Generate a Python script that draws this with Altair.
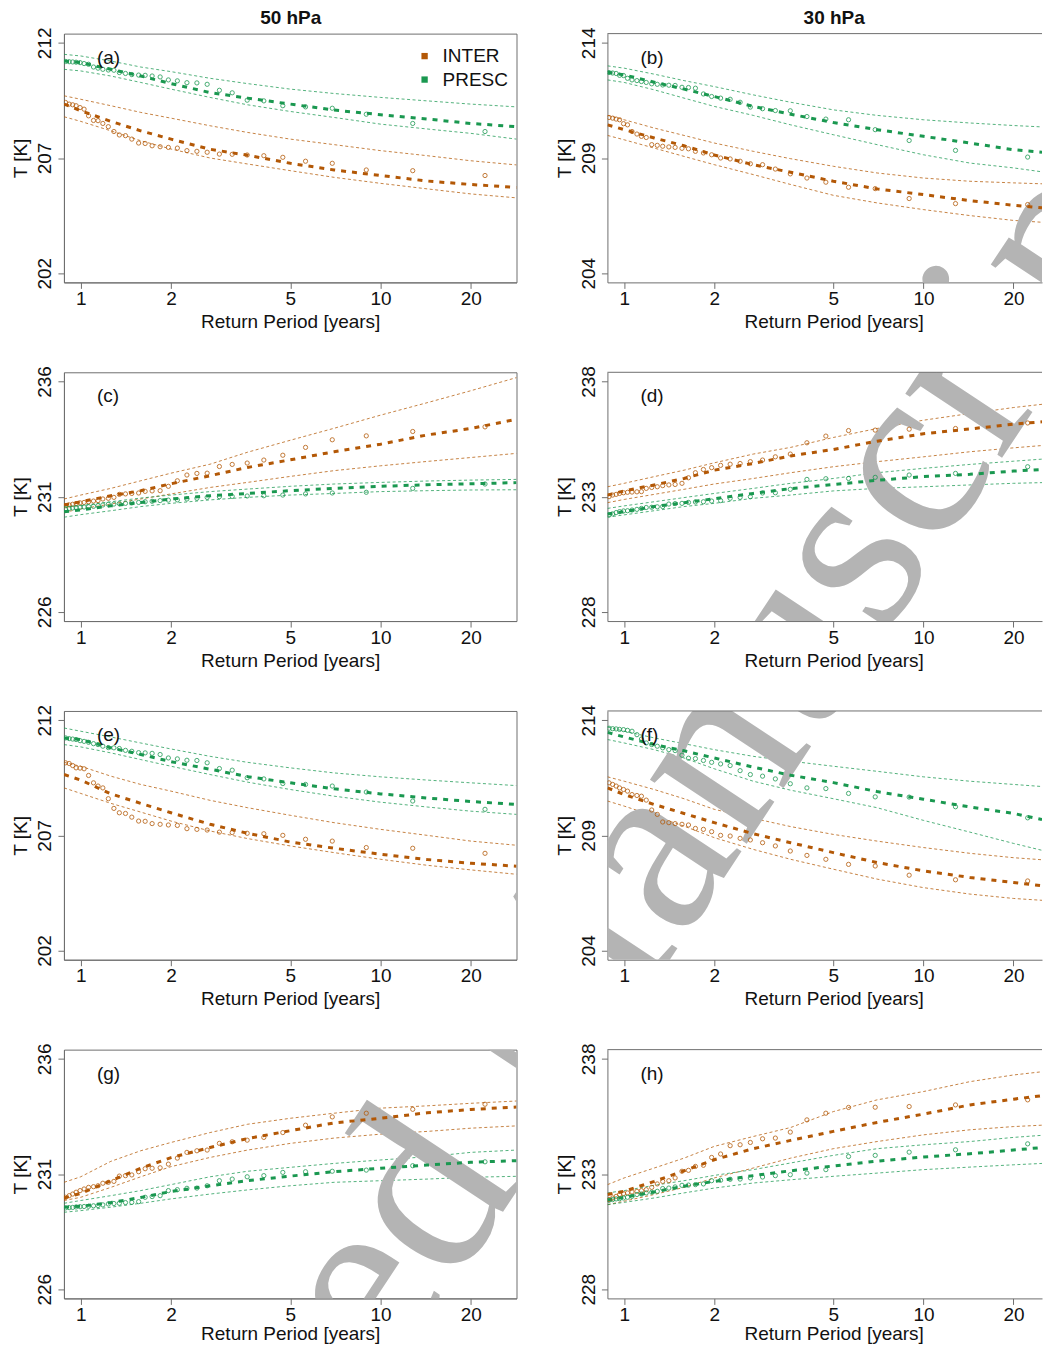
import altair as alt
import pandas as pd

BROWN = "#B35806"
GREEN = "#1A9850"
FRAME = "#6E6E6E"
FONT = "Liberation Sans"

# Return periods (years) of the empirical points, largest first
rp_pts = [22.3, 12.8, 8.96, 6.9, 5.62, 4.72, 4.08, 3.59, 3.2, 2.9, 2.64, 2.44, 2.26, 2.1,
          1.96, 1.84, 1.73, 1.64, 1.56, 1.48, 1.41, 1.345, 1.29, 1.236, 1.185, 1.142,
          1.103, 1.062, 1.026, 0.995, 0.965, 0.94, 0.915, 0.89]
# Return periods at which the fitted curves and bounds are read (left column, full width)
rp_fit = [0.88, 1.0, 1.26, 1.585, 2.0, 2.7, 3.6, 5.0, 7.0, 10.0, 14.3, 20.0, 28.4]
# right column is cut by the picture edge
rp_fit_r = [0.88, 1.0, 1.26, 1.585, 2.0, 2.7, 3.6, 5.0, 7.0, 10.0, 14.3, 20.0, 24.9]

# ---- (a) 50 hPa ----
a_inter_fit = [209.34, 209.05, 208.59, 208.18, 207.82, 207.38, 207.12, 206.77, 206.48, 206.24, 206.00, 205.85, 205.72]
a_inter_hi = [209.70, 209.55, 209.27, 208.98, 208.73, 208.40, 208.11, 207.82, 207.58, 207.32, 207.10, 206.88, 206.70]
a_inter_lo = [208.79, 208.59, 208.18, 207.75, 207.39, 207.00, 206.74, 206.45, 206.16, 205.90, 205.66, 205.44, 205.27]
a_inter_pts = [206.24, 206.45, 206.48, 206.77, 206.86, 207.03, 207.10, 207.13, 207.16, 207.17, 207.25, 207.29, 207.32, 207.43, 207.46, 207.49, 207.53, 207.63, 207.65, 207.82, 207.97, 208.00, 208.15, 208.36, 208.50, 208.62, 208.63, 208.83, 209.12, 209.19, 209.27, 209.31, 209.34, 209.41]
a_presc_fit = [211.21, 211.14, 210.85, 210.56, 210.23, 209.84, 209.60, 209.34, 209.08, 208.88, 208.69, 208.50, 208.36]
a_presc_hi = [211.50, 211.43, 211.21, 210.95, 210.75, 210.46, 210.23, 209.99, 209.80, 209.63, 209.48, 209.34, 209.22]
a_presc_lo = [210.85, 210.78, 210.56, 210.28, 209.99, 209.63, 209.31, 209.02, 208.76, 208.47, 208.26, 208.07, 207.82]
a_presc_pts = [208.15, 208.50, 208.90, 209.16, 209.22, 209.27, 209.48, 209.51, 209.83, 209.94, 210.20, 210.26, 210.27, 210.35, 210.39, 210.52, 210.56, 210.59, 210.60, 210.62, 210.67, 210.71, 210.81, 210.82, 210.85, 210.90, 210.95, 211.07, 211.10, 211.14, 211.16, 211.17, 211.18, 211.19]

# ---- (b) 30 hPa ----
b_inter_fit = [210.44, 210.23, 209.87, 209.53, 209.13, 208.71, 208.38, 207.99, 207.66, 207.41, 207.15, 206.95, 206.84]
b_inter_hi = [210.85, 210.66, 210.30, 209.98, 209.65, 209.29, 208.97, 208.64, 208.35, 208.13, 207.99, 207.92, 207.88]
b_inter_lo = [209.98, 209.79, 209.43, 209.07, 208.71, 208.28, 207.85, 207.38, 207.05, 206.76, 206.50, 206.29, 206.21]
b_inter_pts = [206.98, 207.02, 207.24, 207.67, 207.73, 207.95, 208.13, 208.31, 208.52, 208.71, 208.75, 208.86, 208.96, 209.00, 209.14, 209.22, 209.29, 209.40, 209.42, 209.46, 209.48, 209.51, 209.55, 209.58, 209.89, 209.94, 210.04, 210.15, 210.44, 210.49, 210.66, 210.69, 210.73, 210.76]
b_presc_fit = [212.72, 212.61, 212.29, 211.99, 211.67, 211.24, 210.90, 210.54, 210.23, 209.94, 209.65, 209.36, 209.25]
b_presc_hi = [213.00, 212.90, 212.64, 212.36, 212.10, 211.74, 211.42, 211.09, 210.85, 210.66, 210.52, 210.41, 210.35]
b_presc_lo = [212.39, 212.28, 211.96, 211.60, 211.24, 210.85, 210.44, 210.01, 209.58, 209.14, 208.78, 208.57, 208.40]
b_presc_pts = [209.04, 209.33, 209.76, 210.23, 210.66, 210.69, 210.80, 211.05, 211.06, 211.14, 211.21, 211.42, 211.55, 211.60, 211.67, 211.78, 212.03, 212.06, 212.07, 212.15, 212.16, 212.17, 212.20, 212.22, 212.28, 212.32, 212.36, 212.39, 212.46, 212.58, 212.59, 212.67, 212.69, 212.71]

# ---- (c) ----
c_inter_fit = [230.64, 230.78, 231.04, 231.26, 231.56, 231.91, 232.27, 232.60, 232.95, 233.28, 233.68, 233.96, 234.36]
c_inter_hi = [230.90, 231.07, 231.36, 231.69, 232.02, 232.41, 232.93, 233.45, 233.97, 234.54, 235.08, 235.60, 236.17]
c_inter_lo = [230.32, 230.47, 230.68, 230.90, 231.12, 231.40, 231.62, 231.88, 232.13, 232.34, 232.53, 232.70, 232.88]
c_inter_pts = [234.03, 233.83, 233.64, 233.47, 233.14, 232.80, 232.59, 232.46, 232.40, 232.31, 232.02, 232.01, 231.94, 231.69, 231.45, 231.26, 231.25, 231.23, 231.16, 231.14, 231.12, 231.10, 230.97, 230.93, 230.90, 230.83, 230.81, 230.78, 230.75, 230.73, 230.70, 230.67, 230.64, 230.61]
c_presc_fit = [230.35, 230.42, 230.60, 230.75, 230.90, 231.04, 231.14, 231.26, 231.36, 231.45, 231.52, 231.56, 231.61]
c_presc_hi = [230.54, 230.61, 230.78, 230.94, 231.07, 231.22, 231.33, 231.45, 231.55, 231.62, 231.68, 231.72, 231.75]
c_presc_lo = [230.11, 230.22, 230.39, 230.57, 230.71, 230.86, 230.97, 231.07, 231.14, 231.22, 231.26, 231.29, 231.30]
c_presc_pts = [231.55, 231.36, 231.19, 231.16, 231.12, 231.07, 231.04, 231.03, 231.01, 231.00, 230.97, 230.93, 230.90, 230.86, 230.85, 230.83, 230.80, 230.78, 230.75, 230.73, 230.71, 230.70, 230.68, 230.67, 230.64, 230.61, 230.58, 230.57, 230.55, 230.54, 230.52, 230.51, 230.49, 230.47]

# ---- (d) ----
d_inter_fit = [233.07, 233.25, 233.51, 233.79, 234.15, 234.44, 234.77, 235.05, 235.41, 235.73, 235.94, 236.15, 236.25]
d_inter_hi = [233.43, 233.58, 233.87, 234.15, 234.47, 234.85, 235.14, 235.57, 235.96, 236.32, 236.61, 236.87, 237.01]
d_inter_lo = [232.74, 232.88, 233.10, 233.32, 233.55, 233.79, 234.04, 234.30, 234.52, 234.73, 234.95, 235.12, 235.22]
d_inter_pts = [236.20, 235.96, 235.93, 235.89, 235.87, 235.63, 235.34, 234.85, 234.73, 234.59, 234.52, 234.44, 234.41, 234.36, 234.26, 234.18, 234.04, 233.82, 233.58, 233.53, 233.51, 233.48, 233.43, 233.40, 233.36, 233.22, 233.21, 233.20, 233.19, 233.17, 233.14, 233.10, 233.07, 233.00]
d_presc_fit = [232.25, 232.35, 232.57, 232.74, 232.91, 233.14, 233.35, 233.53, 233.71, 233.87, 233.97, 234.11, 234.18]
d_presc_hi = [232.49, 232.60, 232.78, 232.96, 233.14, 233.36, 233.58, 233.79, 234.04, 234.23, 234.40, 234.54, 234.63]
d_presc_lo = [232.11, 232.21, 232.39, 232.57, 232.71, 232.93, 233.07, 233.25, 233.36, 233.43, 233.51, 233.58, 233.61]
d_presc_pts = [234.30, 234.01, 233.94, 233.84, 233.79, 233.78, 233.75, 233.32, 233.17, 233.16, 233.00, 232.97, 232.93, 232.83, 232.81, 232.78, 232.77, 232.75, 232.71, 232.70, 232.68, 232.57, 232.56, 232.54, 232.53, 232.49, 232.45, 232.42, 232.39, 232.38, 232.35, 232.31, 232.25, 232.21]

# ---- (e) ----
e_inter_fit = [209.64, 209.40, 208.80, 208.39, 207.98, 207.48, 207.09, 206.71, 206.44, 206.18, 205.95, 205.79, 205.66]
e_inter_hi = [210.17, 210.00, 209.57, 209.21, 208.92, 208.52, 208.20, 207.87, 207.55, 207.26, 207.00, 206.75, 206.57]
e_inter_lo = [209.06, 208.82, 208.39, 208.01, 207.62, 207.19, 206.86, 206.54, 206.25, 205.96, 205.70, 205.50, 205.31]
e_inter_pts = [206.22, 206.44, 206.47, 206.75, 206.83, 207.00, 207.07, 207.09, 207.12, 207.14, 207.23, 207.26, 207.29, 207.43, 207.45, 207.48, 207.51, 207.61, 207.62, 207.79, 207.95, 207.98, 208.17, 208.59, 209.06, 209.14, 209.28, 209.60, 209.89, 209.92, 209.93, 210.03, 210.12, 210.15]
e_presc_fit = [211.23, 211.16, 210.80, 210.51, 210.20, 209.87, 209.55, 209.28, 209.02, 208.80, 208.62, 208.47, 208.34]
e_presc_hi = [211.66, 211.52, 211.27, 211.01, 210.75, 210.43, 210.17, 209.93, 209.71, 209.54, 209.40, 209.28, 209.16]
e_presc_lo = [210.94, 210.84, 210.58, 210.29, 210.00, 209.64, 209.31, 208.99, 208.70, 208.44, 208.23, 208.05, 207.91]
e_presc_pts = [208.13, 208.49, 208.88, 209.14, 209.21, 209.25, 209.45, 209.50, 209.83, 209.90, 210.15, 210.25, 210.26, 210.32, 210.36, 210.51, 210.56, 210.58, 210.59, 210.65, 210.69, 210.77, 210.80, 210.81, 210.87, 210.94, 210.98, 211.04, 211.08, 211.11, 211.16, 211.18, 211.20, 211.23]

# ---- (f) ----
f_inter_fit = [211.06, 210.77, 210.34, 209.95, 209.55, 209.07, 208.68, 208.25, 207.82, 207.46, 207.17, 206.95, 206.81]
f_inter_hi = [211.54, 211.35, 210.99, 210.59, 210.13, 209.74, 209.38, 209.04, 208.75, 208.47, 208.22, 208.03, 207.94]
f_inter_lo = [210.49, 210.27, 209.84, 209.40, 208.90, 208.39, 207.96, 207.53, 207.10, 206.73, 206.45, 206.26, 206.18]
f_inter_pts = [207.02, 207.07, 207.27, 207.67, 207.74, 207.96, 208.13, 208.32, 208.54, 208.68, 208.80, 208.87, 208.97, 209.00, 209.16, 209.26, 209.30, 209.45, 209.48, 209.51, 209.55, 209.58, 209.91, 210.10, 210.53, 210.70, 210.73, 210.77, 210.92, 210.99, 211.06, 211.14, 211.21, 211.28]
f_presc_fit = [213.47, 213.27, 212.94, 212.67, 212.36, 211.96, 211.61, 211.29, 210.90, 210.57, 210.23, 209.95, 209.69]
f_presc_hi = [213.70, 213.52, 213.23, 212.98, 212.72, 212.43, 212.22, 212.00, 211.78, 211.54, 211.35, 211.21, 211.12]
f_presc_lo = [213.16, 213.01, 212.72, 212.36, 211.89, 211.35, 210.96, 210.59, 210.20, 209.65, 209.14, 208.65, 208.35]
f_presc_pts = [209.76, 210.24, 210.66, 210.67, 210.82, 211.03, 211.06, 211.24, 211.45, 211.57, 211.64, 211.81, 212.03, 212.10, 212.17, 212.25, 212.33, 212.35, 212.48, 212.68, 212.72, 212.80, 212.87, 212.94, 213.01, 213.18, 213.37, 213.52, 213.56, 213.59, 213.60, 213.62, 213.63, 213.65]

# ---- (g) ----
g_inter_fit = [229.96, 230.16, 230.71, 231.25, 231.71, 232.15, 232.54, 232.88, 233.22, 233.42, 233.66, 233.80, 233.91]
g_inter_hi = [230.64, 230.88, 231.55, 232.01, 232.37, 232.80, 233.16, 233.42, 233.64, 233.86, 233.96, 234.07, 234.17]
g_inter_lo = [229.85, 229.99, 230.42, 230.88, 231.32, 231.72, 232.04, 232.33, 232.56, 232.73, 232.85, 232.99, 233.09]
g_inter_pts = [234.03, 233.81, 233.64, 233.48, 233.12, 232.80, 232.59, 232.47, 232.40, 232.33, 232.04, 232.01, 231.94, 231.69, 231.43, 231.27, 231.25, 231.23, 231.10, 230.96, 230.93, 230.91, 230.68, 230.64, 230.60, 230.49, 230.45, 230.42, 230.35, 230.28, 230.21, 230.13, 230.06, 229.99]
g_presc_fit = [229.56, 229.60, 229.76, 229.98, 230.24, 230.49, 230.71, 230.91, 231.10, 231.25, 231.39, 231.51, 231.58]
g_presc_hi = [229.73, 229.85, 230.06, 230.28, 230.54, 230.88, 231.12, 231.29, 231.46, 231.61, 231.75, 231.94, 232.04]
g_presc_lo = [229.34, 229.41, 229.56, 229.73, 229.92, 230.13, 230.31, 230.49, 230.64, 230.71, 230.78, 230.86, 230.90]
g_presc_pts = [231.53, 231.36, 231.17, 231.12, 231.10, 231.07, 230.93, 230.88, 230.78, 230.71, 230.49, 230.39, 230.38, 230.32, 230.28, 230.06, 230.02, 229.99, 229.80, 229.77, 229.76, 229.73, 229.72, 229.70, 229.66, 229.63, 229.62, 229.60, 229.59, 229.58, 229.57, 229.55, 229.54, 229.53]

# ---- (h) ----
h_inter_fit = [232.11, 232.25, 232.68, 233.14, 233.62, 234.10, 234.46, 234.85, 235.24, 235.60, 236.00, 236.25, 236.40]
h_inter_hi = [232.54, 232.83, 233.26, 233.69, 234.20, 234.63, 235.02, 235.71, 236.22, 236.58, 237.01, 237.30, 237.44]
h_inter_lo = [231.67, 231.82, 232.11, 232.42, 232.83, 233.26, 233.69, 234.10, 234.41, 234.70, 234.92, 235.06, 235.12]
h_inter_pts = [236.22, 236.00, 235.93, 235.90, 235.89, 235.64, 235.35, 234.82, 234.56, 234.53, 234.37, 234.27, 234.23, 233.87, 233.72, 233.38, 233.33, 233.16, 233.12, 232.83, 232.71, 232.68, 232.57, 232.42, 232.32, 232.28, 232.25, 232.22, 232.18, 232.15, 232.11, 232.03, 231.96, 231.89]
h_presc_fit = [231.87, 231.99, 232.22, 232.47, 232.68, 232.93, 233.14, 233.35, 233.56, 233.74, 233.88, 234.04, 234.15]
h_presc_hi = [232.18, 232.28, 232.51, 232.71, 232.94, 233.19, 233.48, 233.81, 234.10, 234.27, 234.41, 234.59, 234.68]
h_presc_lo = [231.67, 231.77, 231.96, 232.18, 232.39, 232.61, 232.75, 232.90, 233.04, 233.19, 233.30, 233.40, 233.46]
h_presc_pts = [234.31, 234.05, 233.95, 233.81, 233.76, 233.19, 233.04, 232.97, 232.93, 232.87, 232.83, 232.78, 232.77, 232.73, 232.71, 232.57, 232.54, 232.52, 232.51, 232.44, 232.39, 232.37, 232.25, 232.21, 232.18, 232.13, 232.11, 232.03, 231.99, 231.96, 231.93, 231.92, 231.89, 231.86]

series_names = ["INTER", "PRESC"]
y_ticks_left_cold = [202, 207, 212]
y_ticks_right_cold = [204, 209, 214]
y_ticks_left_warm = [226, 231, 236]
y_ticks_right_warm = [228, 233, 238]
WATERMARK = "Accepted Manuscript"

panel_series = {
    "a": [(a_inter_fit, a_inter_hi, a_inter_lo, a_inter_pts), (a_presc_fit, a_presc_hi, a_presc_lo, a_presc_pts)],
    "b": [(b_inter_fit, b_inter_hi, b_inter_lo, b_inter_pts), (b_presc_fit, b_presc_hi, b_presc_lo, b_presc_pts)],
    "c": [(c_inter_fit, c_inter_hi, c_inter_lo, c_inter_pts), (c_presc_fit, c_presc_hi, c_presc_lo, c_presc_pts)],
    "d": [(d_inter_fit, d_inter_hi, d_inter_lo, d_inter_pts), (d_presc_fit, d_presc_hi, d_presc_lo, d_presc_pts)],
    "e": [(e_inter_fit, e_inter_hi, e_inter_lo, e_inter_pts), (e_presc_fit, e_presc_hi, e_presc_lo, e_presc_pts)],
    "f": [(f_inter_fit, f_inter_hi, f_inter_lo, f_inter_pts), (f_presc_fit, f_presc_hi, f_presc_lo, f_presc_pts)],
    "g": [(g_inter_fit, g_inter_hi, g_inter_lo, g_inter_pts), (g_presc_fit, g_presc_hi, g_presc_lo, g_presc_pts)],
    "h": [(h_inter_fit, h_inter_hi, h_inter_lo, h_inter_pts), (h_presc_fit, h_presc_hi, h_presc_lo, h_presc_pts)],
}
right_column = {"b", "d", "f", "h"}

records = []
for letter, sers in panel_series.items():
    rpf = rp_fit_r if letter in right_column else rp_fit
    for name, (fit, hi, lo, pts) in zip(series_names, sers):
        for kind, xs, ys in (("fit", rpf, fit), ("hi", rpf, hi), ("lo", rpf, lo), ("pts", rp_pts, pts)):
            for xv, yv in zip(xs, ys):
                records.append({"panel": letter, "series": name, "kind": kind, "rp": xv, "t": yv})
DF = pd.DataFrame(records)
ONE = pd.DataFrame({"k": [0]})

PW_L, PW_R, PH = 453, 435, 249
X_MIN, X_MAX_L, X_MAX_R = 0.879, 28.4, 24.9
COL_SP, ROW_SP = 91, 90
# watermark anchor relative to the top-left plot corner, in pixels
WM_X, WM_Y, WM_ANGLE, WM_SIZE = 531, 1041, 303.5, 253

color = alt.Color("series:N", scale=alt.Scale(domain=series_names, range=[BROWN, GREEN]), legend=None)


def make_panel(letter, col, row, ydom, yticks, top_title=None, legend=False):
    right = col == 1
    pw = PW_R if right else PW_L
    xmax = X_MAX_R if right else X_MAX_L
    ox = col * (PW_L + COL_SP)
    oy = row * (PH + ROW_SP)
    x_title_y = 41 if row == 3 else 45
    xenc = alt.X("rp:Q",
                 scale=alt.Scale(type="log", domain=[X_MIN, xmax], nice=False),
                 axis=alt.Axis(values=[1, 2, 5, 10, 20], format="d", title="Return Period [years]",
                               titleX=226.5, titleY=x_title_y, titleAlign="center", titleBaseline="alphabetic",
                               labelPadding=1, labelFlush=False, labelOverlap=False))
    yenc = alt.Y("t:Q",
                 scale=alt.Scale(domain=ydom, nice=False, zero=False),
                 axis=alt.Axis(values=yticks, format="d", title="T [K]", labelAngle=270,
                               labelAlign="center", labelBaseline="middle", labelPadding=13,
                               titleAngle=270, titleX=-43, titleY=PH / 2, titleAlign="center",
                               titleBaseline="middle", labelFlush=False, labelOverlap=False))
    wm = alt.Chart(ONE).mark_text(text=WATERMARK, font="Liberation Serif", fontSize=WM_SIZE,
                                  angle=WM_ANGLE, align="center", baseline="alphabetic",
                                  color="#b4b4b4", clip=True).encode(
        x=alt.value(WM_X - ox), y=alt.value(WM_Y - oy))
    base = alt.Chart(DF).transform_filter(alt.datum.panel == letter)
    ci = base.transform_filter("datum.kind == 'hi' || datum.kind == 'lo'").mark_line(
        clip=True, strokeWidth=1, strokeDash=[3, 2.5], opacity=0.75
    ).encode(x=xenc, y=yenc, color=color, detail="kind:N")
    fit = base.transform_filter("datum.kind == 'fit'").mark_line(
        clip=True, strokeWidth=3, strokeDash=[5, 6]
    ).encode(x=xenc, y=yenc, color=color)
    pts = base.transform_filter("datum.kind == 'pts'").mark_point(
        shape="circle", filled=False, size=18, strokeWidth=1, opacity=0.8, clip=True
    ).encode(x=xenc, y=yenc, color=color)
    layers = [ci, wm, fit, pts]
    layers.append(alt.Chart(ONE).mark_text(text=f"({letter})", align="left", baseline="alphabetic",
                                           fontSize=19, font=FONT, color="#111")
                  .encode(x=alt.value(33), y=alt.value(30)))
    if top_title:
        layers.append(alt.Chart(ONE).mark_text(text=top_title, align="center", baseline="alphabetic",
                                               fontSize=19, fontWeight="bold", font=FONT, color="#111")
                      .encode(x=alt.value(227), y=alt.value(-9.5)))
    if legend:
        for i, (nm, col_) in enumerate(zip(series_names, [BROWN, GREEN])):
            yy = 22.5 + 23.5 * i
            layers.append(alt.Chart(ONE).mark_square(size=40, color=col_, opacity=1)
                          .encode(x=alt.value(361), y=alt.value(yy)))
            layers.append(alt.Chart(ONE).mark_text(text=nm, align="left", baseline="middle",
                                                   fontSize=19, font=FONT, color="#111")
                          .encode(x=alt.value(379), y=alt.value(yy)))
    if right:
        layers.append(alt.Chart(ONE).mark_rule(color=FRAME, strokeWidth=1)
                      .encode(x=alt.value(0), x2=alt.value(pw), y=alt.value(0)))
    ch = alt.layer(*layers).properties(width=pw, height=PH)
    if right:
        ch = ch.properties(view=alt.ViewBackground(stroke="transparent"))
    return ch


cold_l = [201.6, 212.4]
cold_r = [203.6, 214.4]
warm_l = [225.6, 236.4]
warm_r = [227.6, 238.4]

panels = [
    make_panel("a", 0, 0, cold_l, y_ticks_left_cold, top_title="50 hPa", legend=True),
    make_panel("b", 1, 0, cold_r, y_ticks_right_cold, top_title="30 hPa"),
    make_panel("c", 0, 1, warm_l, y_ticks_left_warm),
    make_panel("d", 1, 1, warm_r, y_ticks_right_warm),
    make_panel("e", 0, 2, cold_l, y_ticks_left_cold),
    make_panel("f", 1, 2, cold_r, y_ticks_right_cold),
    make_panel("g", 0, 3, warm_l, y_ticks_left_warm),
    make_panel("h", 1, 3, warm_r, y_ticks_right_warm),
]

chart = alt.concat(*panels, columns=2, spacing={"row": ROW_SP, "column": COL_SP}, bounds="flush").properties(
    padding={"left": 3, "top": 0, "right": 0, "bottom": 0}
).configure_view(
    stroke=FRAME, strokeWidth=1
).configure_axis(
    grid=False, domainColor=FRAME, tickColor=FRAME, tickSize=6,
    labelFont=FONT, titleFont=FONT, labelFontSize=19, titleFontSize=19,
    labelColor="#111", titleColor="#111", titleFontWeight="normal"
).configure_text(font=FONT)

chart.save("out.html", embed_options={"renderer": "svg", "actions": False})
